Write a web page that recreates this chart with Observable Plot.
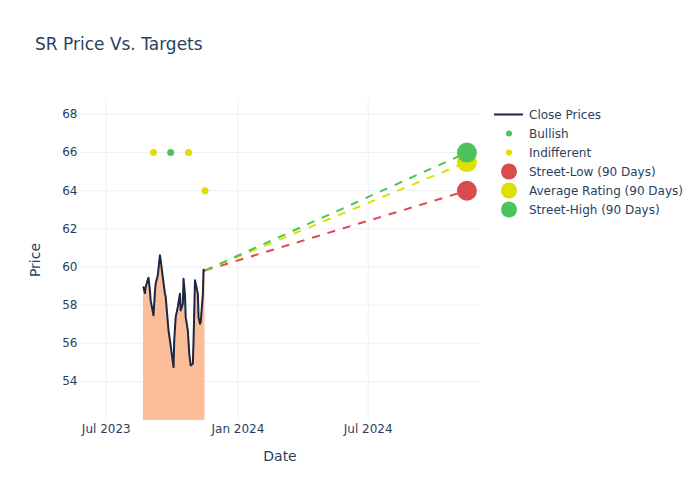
<!DOCTYPE html>
<html>
<head>
<meta charset="utf-8">
<script src="https://cdn.jsdelivr.net/npm/d3@7"></script>
<script src="https://cdn.jsdelivr.net/npm/@observablehq/plot@0.6"></script>
<style>
  html, body { margin: 0; padding: 0; background: #fff; }
  #chart svg { display: block; }
</style>
</head>
<body>
<div id="chart"></div>
<script>
// ---- Data ----
const closeDates = [
  "2023-08-22","2023-08-24","2023-08-25","2023-08-28","2023-08-29","2023-08-31","2023-09-01",
  "2023-09-05","2023-09-07","2023-09-08","2023-09-11","2023-09-14","2023-09-15","2023-09-18",
  "2023-09-21","2023-09-22","2023-09-26","2023-09-28","2023-10-03","2023-10-04","2023-10-06",
  "2023-10-09","2023-10-12","2023-10-13","2023-10-16","2023-10-17","2023-10-19","2023-10-20",
  "2023-10-23","2023-10-25","2023-10-27","2023-10-30","2023-10-31","2023-11-02","2023-11-06",
  "2023-11-07","2023-11-09","2023-11-10","2023-11-13","2023-11-14","2023-11-16"
];
const closePrices = [
  58.94, 58.63, 58.94, 59.33, 59.44, 58.77, 58.25,
  57.46, 58.68, 59.12, 59.56, 60.61, 60.38, 59.47,
  58.60, 58.46, 56.67, 56.15, 54.75, 56.15, 57.37,
  57.90, 58.60, 57.72, 58.07, 59.38, 58.51, 57.37,
  56.67, 55.45, 54.84, 54.93, 56.15, 59.30, 58.60,
  57.37, 57.02, 57.11, 58.56, 59.86, 59.82
];

const ratingDates  = ["2023-09-05", "2023-09-29", "2023-10-24", "2023-11-16"];
const ratingValues = [66, 66, 66, 64];
const ratingTypes  = ["Indifferent", "Bullish", "Indifferent", "Indifferent"];

const targetDate   = "2024-11-16";
const targetLabels = ["Street-Low (90 Days)", "Average Rating (90 Days)", "Street-High (90 Days)"];
const targetValues = [64, 65.5, 66];

const xTickDates = ["2023-07-01", "2024-01-01", "2024-07-01"];
const yTicks = [54, 56, 58, 60, 62, 64, 66, 68];

// ---- Styling ----
const textColor = "#2a3f5f";
const gridColor = "#ebf0f8";
const lineColor = "#1c2541";
const areaColor = "#fbbe99";
const colorMap = {
  "Bullish": "#4fc35b",
  "Indifferent": "#e0de00",
  "Street-Low (90 Days)": "#d94b4f",
  "Average Rating (90 Days)": "#e0e000",
  "Street-High (90 Days)": "#4fc35b"
};

const parse = d3.utcParse("%Y-%m-%d");
const closeData = closeDates.map((d, i) => ({date: parse(d), price: closePrices[i]}));
const ratingData = ratingDates.map((d, i) => ({date: parse(d), value: ratingValues[i], type: ratingTypes[i], color: colorMap[ratingTypes[i]]}));
const last = closeData[closeData.length - 1];
const targetData = targetLabels.map((l, i) => ({
  label: l, date: parse(targetDate), value: targetValues[i], color: colorMap[l],
  startDate: last.date, startValue: last.price
}));
const xTicks = xTickDates.map(parse);

const chart = Plot.plot({
  width: 700,
  height: 500,
  marginLeft: 80,
  marginRight: 220,
  marginTop: 100,
  marginBottom: 80,
  style: {fontFamily: "DejaVu Sans", fontSize: "12px", color: textColor, background: "#fff"},
  x: {type: "utc", domain: [parse("2023-05-26"), parse("2024-12-05")], label: null},
  y: {domain: [51.95, 68.73], label: null},
  color: {type: "identity"},
  marks: [
    Plot.gridY({ticks: yTicks, stroke: gridColor, strokeOpacity: 1, strokeWidth: 1}),
    Plot.gridX({ticks: xTicks, stroke: gridColor, strokeOpacity: 1, strokeWidth: 1}),
    Plot.axisY({ticks: yTicks, tickSize: 0, tickPadding: 3, fill: textColor, label: null, fontSize: 12}),
    Plot.axisX({ticks: xTicks, tickSize: 0, tickPadding: 4, tickFormat: d3.utcFormat("%b %Y"), fill: textColor, label: null, fontSize: 12}),
    Plot.areaY(closeData, {x: "date", y: "price", fill: areaColor, clip: true}),
    Plot.line(closeData, {x: "date", y: "price", stroke: lineColor, strokeWidth: 2}),
    Plot.dot(ratingData, {x: "date", y: "value", fill: "color", r: 3.5}),
    Plot.link(targetData, {x1: "startDate", y1: "startValue", x2: "date", y2: "value", stroke: "color", strokeWidth: 2, strokeDasharray: "8,8"}),
    Plot.dot(targetData, {x: "date", y: "value", fill: "color", r: 10})
  ]
});

document.getElementById("chart").appendChild(chart);

// ---- Title, axis titles and legend ----
const svg = d3.select(chart);
svg.append("text")
  .attr("x", 35).attr("y", 50)
  .attr("text-anchor", "start")
  .attr("fill", textColor)
  .style("font-family", "DejaVu Sans").style("font-size", "17px")
  .text("SR Price Vs. Targets");

svg.append("text")
  .attr("x", 280).attr("y", 461)
  .attr("text-anchor", "middle")
  .attr("fill", textColor)
  .style("font-family", "DejaVu Sans").style("font-size", "14px")
  .text("Date");

svg.append("text")
  .attr("transform", "translate(39.5,260) rotate(-90)")
  .attr("text-anchor", "middle")
  .attr("fill", textColor)
  .style("font-family", "DejaVu Sans").style("font-size", "14px")
  .text("Price");

const legendItems = [
  {label: "Close Prices", kind: "line", color: lineColor},
  {label: "Bullish", kind: "small", color: colorMap["Bullish"]},
  {label: "Indifferent", kind: "small", color: colorMap["Indifferent"]},
  ...targetLabels.map(l => ({label: l, kind: "big", color: colorMap[l]}))
];
const lg = svg.append("g").attr("transform", "translate(494,114.5)");
legendItems.forEach((it, i) => {
  const g = lg.append("g").attr("transform", `translate(0,${i * 19})`);
  if (it.kind === "line") {
    g.append("line").attr("x1", 0).attr("x2", 29).attr("y1", 0).attr("y2", 0)
      .attr("stroke", it.color).attr("stroke-width", 2);
  } else {
    g.append("circle").attr("cx", 15).attr("cy", 0).attr("r", it.kind === "small" ? 3 : 8).attr("fill", it.color);
  }
  g.append("text").attr("x", 35).attr("y", 4.3)
    .attr("text-anchor", "start")
    .attr("fill", textColor)
    .style("font-family", "DejaVu Sans").style("font-size", "12px")
    .text(it.label);
});
</script>
</body>
</html>
